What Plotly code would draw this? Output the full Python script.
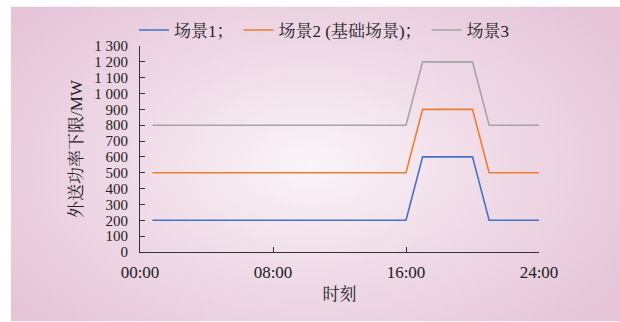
import base64
import plotly.graph_objects as go

# ---- data ----
hours = [0.75, 16, 17, 20, 21, 24]
scene1 = [200, 200, 600, 600, 200, 200]
scene2 = [500, 500, 900, 900, 500, 500]
scene3 = [800, 800, 1200, 1200, 800, 800]
series_names = ["场景1；", "场景2 (基础场景)；", "场景3"]
series_colors = ["#4472C4", "#ED7D31", "#A5A5A5"]
x_tickvals = [0, 8, 16, 24]
x_ticktext = ["00:00", "08:00", "16:00", "24:00"]
y_tickvals = list(range(0, 1301, 100))
y_ticktext = ["0", "100", "200", "300", "400", "500", "600", "700", "800", "900",
              "1 000", "1 100", "1 200", "1 300"]

FONT = "Liberation Serif, Times New Roman, Noto Serif CJK SC, Noto Sans CJK SC, serif"

W, H = 620, 322
L, R, T, B = 140, 81, 45.6, 69.7
pw, ph = W - L - R, H - T - B

# background radial gradient (pink) as svg image
bw, bh = 609, 316
cx, cy = (310 - 11) / bw, (165 - 6) / bh
svg = f'''<svg xmlns="http://www.w3.org/2000/svg" width="{bw}" height="{bh}" viewBox="0 0 {bw} {bh}" preserveAspectRatio="none">
<defs><radialGradient id="g" cx="{cx:.3f}" cy="{cy:.3f}" r="0.62" gradientTransform="translate({cx:.3f},{cy:.3f}) scale(1,{bw/bh*0.62:.3f}) translate({-cx:.3f},{-cy:.3f})">
<stop offset="0" stop-color="#FAF5F8"/>
<stop offset="0.45" stop-color="#F0DCE8"/>
<stop offset="1" stop-color="#E5C4D8"/>
</radialGradient></defs>
<rect x="0" y="0" width="{bw}" height="{bh}" fill="url(#g)"/>
</svg>'''
src = "data:image/svg+xml;base64," + base64.b64encode(svg.encode()).decode()

fig = go.Figure()
for name, ys, c in zip(series_names, [scene1, scene2, scene3], series_colors):
    fig.add_trace(go.Scatter(x=hours, y=ys, mode="lines", name=name,
                             line=dict(color=c, width=1.6)))

fig.add_layout_image(dict(
    source=src, xref="paper", yref="paper",
    x=(11 - L) / pw, y=(H - B - 6) / ph,
    sizex=(W - 11) / pw, sizey=(H - 6) / ph,
    xanchor="left", yanchor="top", sizing="stretch", layer="below"))

fig.update_layout(
    width=W, height=H,
    margin=dict(l=L, r=R, t=T, b=B),
    paper_bgcolor="white", plot_bgcolor="rgba(0,0,0,0)",
    font=dict(family=FONT, size=17, color="#222"),
    showlegend=True,
    legend=dict(orientation="h", x=-0.015, y=(H - B - 30) / ph,
                xanchor="left", yanchor="middle",
                bgcolor="rgba(0,0,0,0)", font=dict(size=17, family=FONT),
                itemwidth=30, tracegroupgap=0),
    xaxis=dict(range=[0, 24], tickvals=x_tickvals, ticktext=x_ticktext,
               showgrid=False, zeroline=False, showline=True, linecolor="#333",
               linewidth=1, ticks="inside", ticklen=5, tickcolor="#333",
               ticklabelstandoff=5, tickfont=dict(size=17),
               title=dict(text="时刻", font=dict(size=17), standoff=6)),
    yaxis=dict(range=[0, 1300], tickvals=y_tickvals, ticktext=y_ticktext,
               showgrid=False, zeroline=False, showline=True, linecolor="#333",
               linewidth=1, ticks="inside", ticklen=5, tickcolor="#333",
               ticklabelstandoff=8, tickfont=dict(size=15),
               title=dict(text="外送功率下限/MW", font=dict(size=17), standoff=7)),
)

fig.write_html("out.html")
